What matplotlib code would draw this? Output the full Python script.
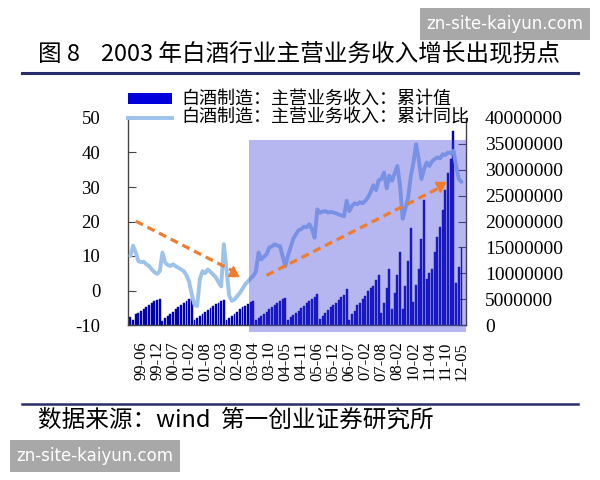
import matplotlib
matplotlib.use('Agg')
import matplotlib.pyplot as plt
from matplotlib.patches import Rectangle
from matplotlib.lines import Line2D
import numpy as np

# ---------------- data ----------------
tick_labels = ['99-06', '99-12', '00-07', '01-02', '01-08', '02-03', '02-09',
               '03-04', '03-10', '04-05', '04-11', '05-06', '05-12', '06-07',
               '07-02', '07-08', '08-02', '10-02', '11-04', '11-10', '12-05']

# 白酒制造:主营业务收入:累计值 (millions of 万元)
revenue_cum_mn = [
    1.6, 1.0, 2.1, 2.4, 2.7, 3.0, 3.4, 3.9, 4.3, 4.6, 4.9, 5.1,
    0.8, 1.3, 1.8, 2.2, 2.6, 3.0, 3.4, 3.8, 4.2, 4.6, 5.0, 5.3,
    0.9, 1.3, 1.7, 2.1, 2.5, 2.9, 3.3, 3.7, 4.0, 4.3, 4.6, 4.9,
    0.9, 1.4, 1.8, 2.2, 2.6, 3.0, 3.4, 3.7, 4.1, 4.4, 4.7,
    1.0, 1.4, 1.8, 2.2, 2.6, 3.0, 3.4, 3.8, 4.3, 4.7, 5.0, 5.3,
    1.0, 1.5, 2.0, 2.4, 2.8, 3.3, 3.7, 4.2, 4.7, 5.1, 5.5, 5.9,
    1.2, 1.8, 2.4, 2.9, 3.4, 3.8, 4.3, 4.9, 5.4, 5.8, 7.0,
    0.9, 2.1, 2.8, 3.9, 4.3, 5.0, 5.6, 6.5, 7.2, 7.6, 8.6, 9.7,
    2.4, 4.3, 7.1, 10.8,
    3.0, 6.2, 9.7, 14.1,
    3.0, 7.5, 12.3, 18.7,
    4.4, 7.8, 10.8, 16.6, 24.1,
    8.8, 10.0, 10.9, 14.1, 17.0, 19.0, 22.3, 26.0, 29.3, 32.0, 37.4,
    8.1, 11.3, 14.8,
]

# 白酒制造:主营业务收入:累计同比 (%)
revenue_yoy = [
    10.0, 13.0, 11.0, 8.5, 8.2, 8.3, 7.6, 7.1, 6.1, 5.3,
    4.8, 5.6, 11.0, 8.1, 7.4, 7.1, 7.6, 7.0, 6.6, 6.1,
    5.6, 4.4, 2.5, -1.2, -4.1, -4.5, 3.2, 5.6, 5.0, 6.1,
    5.4, 4.6, 3.8, 2.4, 1.2, 13.4, 6.0, -1.5, -3.0, -2.6,
    -1.6, -0.7, 0.5, 1.8, 2.6, 3.5, 4.2, 5.5, 11.0, 9.0,
    9.8, 10.5, 12.4, 12.8, 13.4, 13.0, 12.9, 10.0, 7.1, 10.0,
    12.5, 15.0, 16.3, 17.5, 17.8, 18.5, 18.3, 19.2, 17.8, 15.3,
    23.5, 22.5, 22.9, 23.0, 22.6, 22.8, 22.6, 22.4, 22.0, 21.8,
    21.5, 26.0, 23.0, 24.5, 25.3, 25.0, 25.6, 25.3, 26.0, 27.0,
    28.6, 30.5, 29.1, 32.0, 32.3, 34.2, 29.6, 33.3, 31.8, 34.0,
    36.1, 30.3, 20.8, 23.8, 26.8, 33.0, 37.0, 42.4, 38.0, 32.3,
    35.2, 37.1, 36.1, 37.5, 38.1, 38.6, 38.3, 39.5, 39.3, 40.0,
    39.8, 40.5, 36.1, 32.3, 31.5,
]

# trend arrows (category index, yoy %)
trend_down = ([2.0, 38.6], [20.1, 5.6])
trend_up = ([51.0, 116.1], [4.4, 29.9])
# highlighted period (category index range, yoy range)
highlight_x = (44.6, 125.7)
highlight_y = (-11.9, 43.6)

legend_labels = ['白酒制造：主营业务收入：累计值', '白酒制造：主营业务收入：累计同比']
title_text = '图 8    2003 年白酒行业主营业务收入增长出现拐点'
source_text = '数据来源：wind  第一创业证券研究所'
watermark = 'zn-site-kaiyun.com'

# ---------------- style ----------------
plt.rcParams['axes.unicode_minus'] = False
CJK = ['Noto Sans CJK SC', 'DejaVu Sans']
SERIF = 'Liberation Serif'
BAR_C = '#0000cc'
LINE_C = '#9dc3ea'
ORANGE = '#f07c2c'
NAVY = '#2b2d6b'

W, H = 600, 480
fig = plt.figure(figsize=(6, 4.8), dpi=100)
fig.patch.set_facecolor('white')


def fy(py):
    return 1 - py / H


ax = fig.add_axes([128 / W, fy(325), (466 - 128) / W, (325 - 118) / H])
ax2 = ax.twinx()

n = len(revenue_cum_mn)
x = np.arange(n)

# bars (right axis)
ax.bar(x, np.array(revenue_cum_mn) * 1e6, width=0.72, color=BAR_C,
       edgecolor='#00007a', linewidth=0.3, zorder=2)
ax.set_xlim(-0.9, 125.7)
ax.set_ylim(0, 40e6)
ax.yaxis.tick_right()
rt = np.arange(0, 40e6 + 1, 5e6)
ax.set_yticks(rt)
ax.set_yticklabels([f'{int(v)}' for v in rt], fontfamily=SERIF, fontsize=14)
ax.tick_params(axis='y', direction='in', length=6, pad=13.5, color='#444444')

tick_pos = list(range(4, n, 6))
ax.set_xticks(tick_pos)
ax.set_xticklabels(tick_labels, rotation=90, fontfamily=SERIF, fontsize=12)
ax.tick_params(axis='x', length=0, pad=12)

ax.spines['top'].set_visible(False)
for s in ['left', 'right', 'bottom']:
    ax.spines[s].set_color('#444444')
    ax.spines[s].set_linewidth(1.0)

# line (left axis)
ax2.plot(x, revenue_yoy, color=LINE_C, lw=2.8, zorder=2,
         solid_joinstyle='round', solid_capstyle='round')
ax2.set_ylim(-10, 50)
ax2.yaxis.tick_left()
lt = np.arange(-10, 51, 10)
ax2.set_yticks(lt)
ax2.set_yticklabels([str(v) for v in lt], fontfamily=SERIF, fontsize=13.5)
ax2.tick_params(axis='y', direction='in', length=6, pad=20, color='#444444')
for s in ax2.spines.values():
    s.set_visible(False)

# highlighted period
ax2.add_patch(Rectangle((highlight_x[0], highlight_y[0]),
                        highlight_x[1] - highlight_x[0],
                        highlight_y[1] - highlight_y[0],
                        facecolor='#4040dc', alpha=0.38, linewidth=0,
                        clip_on=False, zorder=3))

# trend arrows
ax2.plot(trend_down[0], trend_down[1], color=ORANGE, lw=2.3,
         dashes=(2.5, 1.6), zorder=4)
ax2.plot(trend_down[0][-1], trend_down[1][-1], marker='^', ms=7,
         color=ORANGE, zorder=5)
ax2.plot(trend_up[0], trend_up[1], color=ORANGE, lw=2.3,
         dashes=(2.5, 1.6), zorder=4)
ax2.plot(trend_up[0][-1], trend_up[1][-1], marker='v', ms=7,
         color=ORANGE, zorder=5)

# legend (manual, above the plot)
fig.add_artist(Rectangle((128 / W, fy(104)), 44 / W, 11 / H,
                         transform=fig.transFigure, facecolor='#0000dd',
                         edgecolor='none', zorder=5))
fig.add_artist(Line2D([128 / W, 172 / W], [fy(118), fy(118)],
                      transform=fig.transFigure, color=LINE_C, lw=2.8,
                      zorder=5))
fig.text(181 / W, fy(98.5), legend_labels[0], family=CJK, fontsize=13,
         va='center', ha='left', zorder=6)
fig.text(181 / W, fy(118), legend_labels[1], family=CJK, fontsize=13,
         va='center', ha='left', zorder=6)

# title and decorations
fig.text(38 / W, fy(54), title_text, family=CJK, fontsize=17,
         va='center', ha='left')
fig.add_artist(Line2D([22 / W, 578 / W], [fy(73), fy(73)],
                      transform=fig.transFigure, color=NAVY, lw=2.2))
fig.add_artist(Line2D([22 / W, 578 / W], [fy(404), fy(404)],
                      transform=fig.transFigure, color=NAVY, lw=1.8))
fig.text(38 / W, fy(420), source_text, family=CJK, fontsize=17,
         va='center', ha='left')

# watermarks
for (bx, by, bw, bh) in [(420, 8, 170, 32), (10, 440, 170, 32)]:
    fig.add_artist(Rectangle((bx / W, fy(by + bh)), bw / W, bh / H,
                             transform=fig.transFigure, facecolor='#a8a8a8',
                             edgecolor='none', zorder=7))
    fig.text((bx + bw / 2) / W, fy(by + bh / 2), watermark, color='white',
             fontsize=12, ha='center', va='center', zorder=8,
             family='DejaVu Sans')

fig.savefig('out.png', dpi=100)
